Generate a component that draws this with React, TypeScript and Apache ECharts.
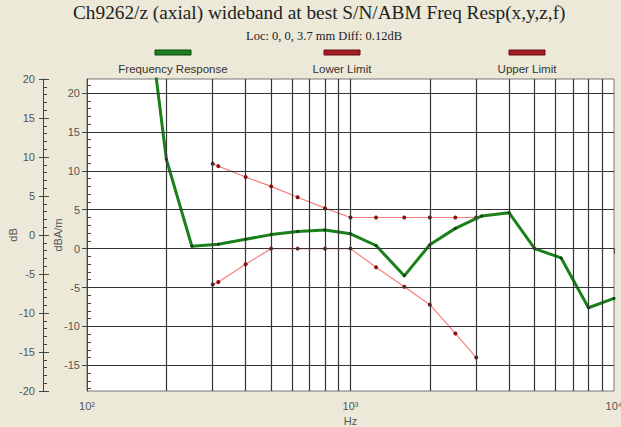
import React, { useEffect, useRef } from "react";
import * as echarts from "echarts";

const responseHz = [160, 200, 250, 315, 400, 500, 630, 800, 1000, 1250, 1600, 2000, 2500, 3150, 4000, 5000, 6300, 8000, 10000];
const responseDb = [38, 11.5, 0.3, 0.55, 1.2, 1.8, 2.2, 2.4, 1.9, 0.4, -3.5, 0.5, 2.6, 4.2, 4.6, 0, -1.2, -7.6, -6.4];

const limitHz = [300, 315, 400, 500, 630, 800, 1000, 1250, 1600, 2000, 2500, 3000];
const lowerDb = [-4.6, -4.3, -2.0, 0, 0, 0, 0, -2.4, -4.9, -7.2, -10.9, -14];
const upperDb = [10.9, 10.6, 9.2, 8.0, 6.6, 5.2, 4.0, 4.0, 4.0, 4.0, 4.0, 4.0];

const gridHz = [200, 300, 400, 500, 600, 700, 800, 900, 1000, 2000, 3000, 4000, 5000, 6000, 7000, 8000, 9000];
const innerMajorTicks = [-15, -10, -5, 0, 5, 10, 15, 20];
const innerMinorTicks = [-18, -17, -16, -15, -14, -13, -12, -11, -10, -9, -8, -7, -6, -5, -4, -3, -2, -1, 0, 1, 2, 3, 4, 5, 6, 7, 8, 9, 10, 11, 12, 13, 14, 15, 16, 17, 18, 19, 20, 21];
const xTickLabels: Record<number, string> = { 100: "10²", 1000: "10³", 10000: "10⁴" };

const legendItems = [
  { name: "Frequency Response", color: "#1e7f1e", border: "#0b4a0b", cx: 173 },
  { name: "Lower Limit", color: "#a31d25", border: "#6a0d12", cx: 342 },
  { name: "Upper Limit", color: "#a31d25", border: "#6a0d12", cx: 527 },
];

const zip = (xs: number[], ys: number[]) => xs.map((x, i) => [x, ys[i]]);

export default function App() {
  const ref = useRef<HTMLDivElement>(null);
  useEffect(() => {
    if (!ref.current) return;
    const chart = echarts.init(ref.current, undefined, { renderer: "svg" });
    const tickFont = { color: "#555", fontSize: 11, fontFamily: "Liberation Sans, Arial, sans-serif" };
    const gridLine = { color: "#333", width: 1.2, type: "solid" as const };
    const serif = "Liberation Serif, Times New Roman, serif";
    chart.setOption({
      animation: false,
      backgroundColor: "#ece9d8",
      title: [
        {
          text: "Ch9262/z (axial) wideband at best S/N/ABM Freq Resp(x,y,z,f)",
          left: 73,
          top: 3,
          padding: 0,
          textStyle: { fontFamily: serif, fontSize: 19.3, fontWeight: "normal", color: "#222" },
        },
        {
          text: "Loc: 0, 0, 3.7 mm Diff: 0.12dB",
          left: 246,
          top: 29,
          padding: 0,
          textStyle: { fontFamily: serif, fontSize: 12.5, fontWeight: "normal", color: "#222" },
        },
      ],
      graphic: legendItems.flatMap((it) => [
        {
          type: "rect",
          shape: { x: it.cx - 18, y: 50, width: 36, height: 5 },
          style: { fill: it.color, stroke: it.border, lineWidth: 1 },
        },
        {
          type: "text",
          x: it.cx,
          y: 69,
          style: { text: it.name, fill: "#333", fontSize: 11.5, fontFamily: "Liberation Sans, Arial, sans-serif", align: "center", verticalAlign: "middle" },
        },
      ]),
      grid: {
        left: 87,
        top: 79,
        right: 7,
        bottom: 36,
        outerBoundsMode: "none",
        containLabel: false,
        show: true,
        backgroundColor: "#ffffff",
        borderColor: "#777",
        borderWidth: 1,
      },
      xAxis: {
        type: "log",
        logBase: 10,
        min: 100,
        max: 10000,
        splitNumber: 2,
        name: "Hz",
        nameLocation: "middle",
        nameGap: 23,
        nameTextStyle: { ...tickFont },
        axisLine: { show: true, lineStyle: { color: "#444" } },
        axisTick: { show: true, length: 5, lineStyle: { color: "#444" } },
        axisLabel: { ...tickFont, margin: 9, formatter: (v: number) => xTickLabels[Math.round(v)] ?? "" },
        splitLine: { show: false },
      },
      yAxis: [
        {
          type: "value",
          position: "left",
          min: -18.3,
          max: 21.8,
          name: "dBA/m",
          nameLocation: "middle",
          nameRotate: 90,
          nameGap: 24,
          nameMoveOverlap: false,
          nameTextStyle: { ...tickFont },
          axisLine: { show: true, lineStyle: { color: "#444" } },
          axisTick: { show: true, customValues: innerMajorTicks, length: 5, lineStyle: { color: "#444" } },
          axisLabel: { ...tickFont, customValues: innerMajorTicks, margin: 7 },
          splitLine: { show: false },
        },
        {
          type: "value",
          position: "left",
          min: -18.3,
          max: 21.8,
          axisLine: { show: false },
          axisTick: { show: true, inside: true, customValues: innerMinorTicks, length: 4, lineStyle: { color: "#444" } },
          axisLabel: { show: false },
          splitLine: { show: false },
        },
        {
          type: "value",
          position: "left",
          offset: 44,
          min: -20,
          max: 20,
          interval: 5,
          name: "dB",
          nameLocation: "middle",
          nameRotate: 90,
          nameGap: 25,
          nameMoveOverlap: false,
          nameTextStyle: { ...tickFont },
          axisLine: { show: true, lineStyle: { color: "#444" } },
          axisTick: { show: true, inside: true, length: 6, lineStyle: { color: "#444" } },
          minorTick: { show: true, splitNumber: 5, length: 4, lineStyle: { color: "#444" } },
          axisLabel: { ...tickFont, margin: 8 },
          splitLine: { show: false },
        },
        {
          type: "value",
          position: "left",
          offset: 44,
          min: -20,
          max: 20,
          interval: 5,
          axisLine: { show: false },
          axisTick: { show: true, length: 4, lineStyle: { color: "#444" } },
          axisLabel: { show: false },
          splitLine: { show: false },
        },
      ],
      series: [
        {
          name: "grid",
          type: "line",
          data: [],
          yAxisIndex: 0,
          z: 1,
          silent: true,
          markLine: {
            silent: true,
            symbol: "none",
            label: { show: false },
            lineStyle: gridLine,
            data: [
              ...gridHz.map((f) => ({ xAxis: f })),
              ...innerMajorTicks.map((v) => ({ yAxis: v })),
            ],
          },
        },
        {
          name: "Lower Limit",
          type: "line",
          yAxisIndex: 0,
          z: 3,
          data: zip(limitHz, lowerDb),
          lineStyle: { color: "#f47f7f", width: 1.2 },
          symbol: "circle",
          symbolSize: 4,
          itemStyle: { color: "#8e0b0b" },
        },
        {
          name: "Upper Limit",
          type: "line",
          yAxisIndex: 0,
          z: 3,
          data: zip(limitHz, upperDb),
          lineStyle: { color: "#f47f7f", width: 1.2 },
          symbol: "circle",
          symbolSize: 4,
          itemStyle: { color: "#8e0b0b" },
        },
        {
          name: "Frequency Response",
          type: "line",
          yAxisIndex: 0,
          z: 4,
          data: zip(responseHz, responseDb),
          lineStyle: { color: "#1a801a", width: 3 },
          symbol: "circle",
          symbolSize: 3,
          itemStyle: { color: "#0b3a0b" },
        },
      ],
    });
    return () => chart.dispose();
  }, []);
  return <div ref={ref} style={{ position: "absolute", left: 0, top: 0, width: 621, height: 427 }} />;
}
